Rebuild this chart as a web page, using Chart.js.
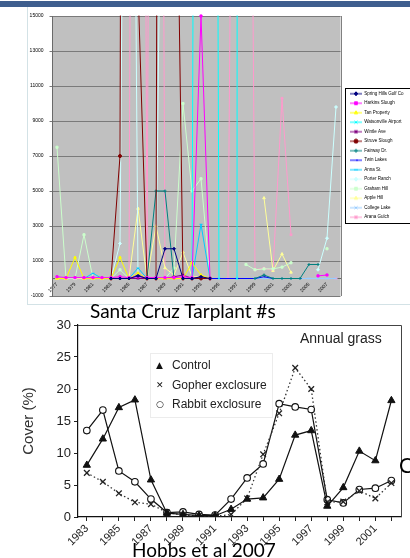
<!DOCTYPE html>
<html><head><meta charset="utf-8"><title>Santa Cruz Tarplant</title>
<script src="https://cdn.jsdelivr.net/npm/chart.js@4.4.1/dist/chart.umd.min.js"></script>
<style>
html,body{margin:0;padding:0;background:#fff;}
body{width:410px;height:558px;overflow:hidden;position:relative;}
.abs{position:absolute;}
#band{left:0;top:1px;width:410px;height:6px;background:#3e5e8e;}
#frame{left:27px;top:7px;width:383px;height:298px;border-left:1px solid #d3e2e6;border-bottom:1px solid #d3e2e6;box-sizing:border-box;}
.cal{font-family:Lato,'Open Sans',sans-serif;color:#000;white-space:nowrap;line-height:1;}
#t1{left:90px;top:301px;font-size:19px;z-index:5;}
#t2{left:132px;top:540px;font-size:19px;z-index:5;}
#t3{left:399px;top:454px;font-size:21px;z-index:5;}
#ann{left:300px;top:331px;font-family:'Liberation Sans',Arial,sans-serif;font-size:14px;color:#222;line-height:1;white-space:nowrap;}
#lg2{left:150px;top:353px;width:121px;height:63px;border:1px solid #ececec;}
.lr{position:absolute;font-family:'Liberation Sans',Arial,sans-serif;font-size:12px;color:#222;line-height:12px;white-space:nowrap;}
.mk{position:absolute;font-family:'DejaVu Sans',sans-serif;font-size:9px;color:#111;line-height:12px;}
</style></head>
<body>
<div id="band" class="abs"></div>
<div id="frame" class="abs"></div>
<canvas id="c1" class="abs" width="383" height="298" style="left:27px;top:7px"></canvas>
<canvas id="c2" class="abs" width="410" height="258" style="left:0;top:300px"></canvas>
<div id="t1" class="abs cal">Santa Cruz Tarplant #s</div>
<div id="ann" class="abs">Annual grass</div>
<div id="lg2" class="abs"></div>
<div class="mk" style="left:156px;top:359px">▲</div><div class="lr" style="left:172px;top:359px">Control</div>
<div class="mk" style="left:156px;top:379px">✕</div><div class="lr" style="left:172px;top:379px">Gopher exclosure</div>
<div class="mk" style="left:156px;top:398px">○</div><div class="lr" style="left:172px;top:398px">Rabbit exclosure</div>
<div id="t3" class="abs cal">C</div>
<div id="t2" class="abs cal">Hobbs et al 2007</div>
<script>
// ---------- Top chart data (Santa Cruz tarplant counts) ----------
const years = ['1977','1978','1979','1980','1981','1982','1983','1984','1985','1986','1987','1988','1989','1990','1991','1992',
               '1993','1994','1995','1996','1997','1998','1999','2000','2001','2002','2003','2004','2005','2006','2007','2008'];
const yTicks = [-1000, 1000, 3000, 5000, 7000, 9000, 11000, 13000, 15000];
const N = null;
const springHills = [N,N,N,N,N,N, 0,0,0,150,0,0,1700,1700,0,0,100,0, N,N,N,N,N,N,N,N,N,N,N,N,N,N];
const harkins     = [100,50,50,50,50,50,50,100,50,100,50,50,50,50,100,50,15000,0, N,N,N,N,N,N,N,N,N,N,N, 150,200,N];
const tanProperty = [0,0,1200,0,0,0,0,1200,0,300,0,0,0,0,0,900,200,0, N,N,N,N,N,N,N,N,N,N,N,N,N,N];
const watsonville = [N,N,N,N,N,N,N,N,N,N,N,N,N,N,N, 0,140000,140000,0,N,0,1000000, N,N,N,N,N,N,N,N,N,N];
const wintle      = [N,N,N,N,N,N, 0,0,0,0,0,0,0,100,200,0,100,0, N,N,N,N,N,N,N,N,N,N,N,N,N,N];
const struve      = [N,N,N,N,N,N, 0,7000,200000,16800,0,0,200000,36000,0,0,0,0, N,N,N,N,N,N,N,N,N,N,N,N,N,N];
const fairway     = [N,N,N,N,N,N,N,N,N,N, 0,5000,5000,0,0,0,0,0, N,N,N,N, 0,200,0,0,0,0,800,800, N,N];
const twinLakes   = [N,N,N,N,N,N,N,N, 0,200,0,0,0,0,0,0,0,0,0,0,0,0,0,100,0,0,0,0, N,N,N,N];
const annaSt      = [N,N,N, 0,300,0,0,0,0,600,0,0,0,0,0,0,3100,0, N,N,N,N,N,N,N,N,N,N,N,N,N,N];
const porterRanch = [N,N,N,N,N,N, 0,2000,67500,0,0,0,45000,45000, N,N,N,N,N,N,N,N,N,N,N,N,N,N,N, 500,2300,9800];
const grahamHill  = [7500,0,0,2500,0,0,0,500,0,0,0,0,0,600,10000,5000,5700,0, N,N,N, 800,500,550,550,650,900, N,N,N, 1700,N];
const appleHill   = [0,0,0,0,0,0,0,0,0,4000,0,3000,600,200,1500,100,100,0, N,N,N,N,N, 4600,450,1400,350, N,N,N,N,N];
const collegeLake = [N,N,N,N,N,N, 0,0,0,0,0,0,0,0,0,0,0,0,0,0,0,0,0,0,0,0,0,0,0,0,0,0];
const aranaGulch  = [0,0,0,0,0,0,0,0,0,135000,0,120000,0,0,0,0,0,0,0,0,67500,67500,500,600,450,10300,2500, N,N,N,N,0];

const siteNames = ['Spring Hills Golf Co','Harkins Slough','Tan Property','Watsonville Airport','Wintle Ave','Struve Slough',
  'Fairway Dr.','Twin Lakes','Anna St.','Porter Ranch','Graham Hill','Apple Hill','College Lake','Arana Gulch'];
const siteValues = [springHills, harkins, tanProperty, watsonville, wintle, struve, fairway, twinLakes, annaSt,
  porterRanch, grahamHill, appleHill, collegeLake, aranaGulch];
const siteColors = ['#000080','#FF00FF','#FFFF00','#00FFFF','#800080','#800000','#008080','#0000FF','#00CCFF',
  '#CCFFFF','#CCFFCC','#FFFF99','#99CCFF','#FF99CC'];
const siteMarkers = ['rectRot','rect','triangle','crossRot','star','circle','cross','dash','line',
  'rectRot','rect','triangle','crossRot','star'];

// ---------- Bottom chart data (Hobbs et al. 2007, annual grass cover) ----------
const hobbsYears = [1983,1984,1985,1986,1987,1988,1989,1990,1991,1992,1993,1994,1995,1996,1997,1998,1999,2000,2001,2002];
const controlCover = [8.1,12.2,17.1,18.3,5.8,0.6,0.4,0.2,0.2,1.2,2.8,3.0,5.9,12.8,13.5,1.7,4.6,10.3,8.8,18.2];
const gopherCover  = [6.9,5.5,3.7,2.3,2.0,0.7,0.3,0.2,0.1,0.4,2.9,9.8,16.2,23.3,20.0,2.3,2.4,4.1,2.9,5.3];
const rabbitCover  = [13.5,16.7,7.2,5.5,2.8,0.7,0.8,0.4,0.3,2.8,6.1,8.3,17.7,17.2,16.8,2.7,2.2,4.3,4.5,5.7];

Chart.defaults.font.family = "'Liberation Sans', Arial, sans-serif";

// legend icons (line + marker), Excel style
function makeIcon(color, style) {
  const c = document.createElement('canvas');
  c.width = 12; c.height = 6;
  const g = c.getContext('2d');
  g.strokeStyle = color; g.fillStyle = color; g.lineWidth = 1;
  g.beginPath(); g.moveTo(0, 3); g.lineTo(12, 3); g.stroke();
  if (Chart.helpers && Chart.helpers.drawPoint) {
    Chart.helpers.drawPoint(g, {pointStyle: style, rotation: 0, radius: 2, borderWidth: 1}, 6, 3);
  } else { g.fillRect(4, 1, 4, 4); }
  return c;
}
const icons = siteColors.map((c, i) => makeIcon(c, siteMarkers[i]));

const LEGEND_W = 69.5, LEGEND_SHIFT = 4.5;
const topPlugin = {
  id: 'topPlugin',
  beforeLayout(chart) {
    const lg = chart.legend;
    if (lg && !lg.__patched) {
      const f = lg.fit;
      lg.fit = function () { f.call(this); this.width = LEGEND_W; };
      lg.__patched = true;
    }
  },
  afterLayout(chart) {
    const lg = chart.legend;
    if (lg) { lg.left += LEGEND_SHIFT; lg.right += LEGEND_SHIFT; }
  },
  beforeDraw(chart) {
    const {ctx, chartArea: a} = chart;
    ctx.save();
    ctx.fillStyle = '#c0c0c0';
    ctx.fillRect(a.left, a.top, a.right - a.left, a.bottom - a.top);
    ctx.restore();
  },
  afterDraw(chart) {
    const {ctx, chartArea: a} = chart;
    ctx.save();
    ctx.strokeStyle = '#808080'; ctx.lineWidth = 1;
    ctx.beginPath(); ctx.moveTo(Math.round(a.right) + 0.5, a.top); ctx.lineTo(Math.round(a.right) + 0.5, a.bottom); ctx.stroke();
    const lg = chart.legend;
    const hb = lg.legendHitBoxes;
    if (hb && hb.length) {
      const top = hb[0].top - 3.5;
      const last = hb[hb.length - 1];
      const bot = last.top + last.height + 3.5;
      ctx.strokeStyle = '#000';
      ctx.strokeRect(Math.round(lg.left) + 0.5, Math.round(top) + 0.5, 200, Math.round(bot - top));
    }
    ctx.restore();
  }
};

new Chart(document.getElementById('c1'), {
  type: 'line',
  data: {
    labels: years,
    datasets: siteNames.map((name, i) => ({
      label: name,
      data: siteValues[i],
      borderColor: siteColors[i],
      backgroundColor: siteColors[i],
      pointBackgroundColor: siteColors[i],
      pointBorderColor: siteColors[i],
      pointStyle: siteMarkers[i],
      borderWidth: 1,
      pointRadius: 1.5,
      pointBorderWidth: 1,
      tension: 0,
      spanGaps: false,
      clip: i === 1 ? 4 : 0.5
    }))
  },
  options: {
    responsive: false, animation: false, devicePixelRatio: 1,
    events: [],
    layout: {padding: {top: 8, bottom: 9, left: 0, right: 0}},
    scales: {
      x: {
        type: 'category', offset: true, position: {y: 0},
        grid: {display: false, tickLength: 2},
        border: {display: true, color: '#6a6a6a', width: 1},
        ticks: {
          autoSkip: false, minRotation: 45, maxRotation: 45, padding: 1, color: '#000', font: {size: 5},
          callback(v, i) { return i % 2 === 0 ? this.getLabelForValue(v) : ''; }
        }
      },
      y: {
        min: yTicks[0], max: yTicks[yTicks.length - 1],
        afterFit(s) { s.width = 25.5; },
        afterBuildTicks(s) { s.ticks = yTicks.map(v => ({value: v})); },
        ticks: {color: '#000', font: {size: 5}, padding: 6, callback: v => String(v)},
        grid: {color: '#7a7a7a', lineWidth: 1, tickLength: 3},
        border: {color: '#6a6a6a'}
      }
    },
    plugins: {
      tooltip: {enabled: false},
      legend: {
        position: 'right', align: 'center',
        labels: {
          usePointStyle: true, pointStyleWidth: 12, padding: 5, color: '#000', font: {size: 4.5},
          generateLabels(chart) {
            const items = Chart.defaults.plugins.legend.labels.generateLabels(chart);
            items.forEach((it, i) => { it.pointStyle = icons[i]; });
            return items;
          }
        }
      }
    }
  },
  plugins: [topPlugin]
});

// ---------- bottom chart ----------
const framePlugin = {
  id: 'framePlugin',
  afterDraw(chart) {
    const {ctx, chartArea: a} = chart;
    ctx.save();
    ctx.strokeStyle = '#444'; ctx.lineWidth = 1;
    ctx.beginPath();
    ctx.moveTo(a.left, Math.round(a.top) + 0.5);
    ctx.lineTo(Math.round(a.right) + 0.5, Math.round(a.top) + 0.5);
    ctx.lineTo(Math.round(a.right) + 0.5, a.bottom);
    ctx.stroke();
    ctx.restore();
  }
};
const pts = arr => hobbsYears.map((x, i) => ({x, y: arr[i]}));
new Chart(document.getElementById('c2'), {
  type: 'line',
  data: {
    datasets: [
      {label: 'Control', data: pts(controlCover), borderColor: '#111', borderWidth: 1.2, pointStyle: 'triangle',
       pointRadius: 4.2, pointBackgroundColor: '#111', pointBorderColor: '#111', pointBorderWidth: 1, tension: 0},
      {label: 'Gopher exclosure', data: pts(gopherCover), borderColor: '#333', borderWidth: 1.3, borderDash: [1.5, 2.5],
       pointStyle: 'crossRot', pointRadius: 4, pointBorderColor: '#222', pointBorderWidth: 1.3, tension: 0},
      {label: 'Rabbit exclosure', data: pts(rabbitCover), borderColor: '#111', borderWidth: 1.2, pointStyle: 'circle',
       pointRadius: 3.3, pointBackgroundColor: '#fff', pointBorderColor: '#111', pointBorderWidth: 1.1, tension: 0}
    ]
  },
  options: {
    responsive: false, animation: false, devicePixelRatio: 1,
    events: [],
    layout: {padding: {top: 25, right: 9, left: 0, bottom: 0}},
    scales: {
      x: {
        type: 'linear', min: 1982.45, max: 2002.6,
        afterFit(s) { s.height = 41; },
        afterBuildTicks(s) { s.ticks = hobbsYears.map(v => ({value: v})); },
        grid: {drawOnChartArea: false, tickLength: 4, color: '#222'},
        border: {color: '#111', width: 1.2},
        ticks: {autoSkip: false, minRotation: 45, maxRotation: 45, padding: 1, color: '#222', font: {size: 11},
                callback: v => (v % 2 ? String(v) : '')}
      },
      y: {
        min: 0, max: 30,
        afterFit(s) { s.width = 78; },
        ticks: {stepSize: 5, padding: 3, color: '#222', font: {size: 13}},
        grid: {drawOnChartArea: false, tickLength: 4, color: '#222'},
        border: {color: '#111', width: 1.2},
        title: {display: true, text: 'Cover (%)', color: '#333', font: {size: 15}, padding: {top: 20, bottom: 0}}
      }
    },
    plugins: {legend: {display: false}, tooltip: {enabled: false}}
  },
  plugins: [framePlugin]
});
</script>
</body></html>
